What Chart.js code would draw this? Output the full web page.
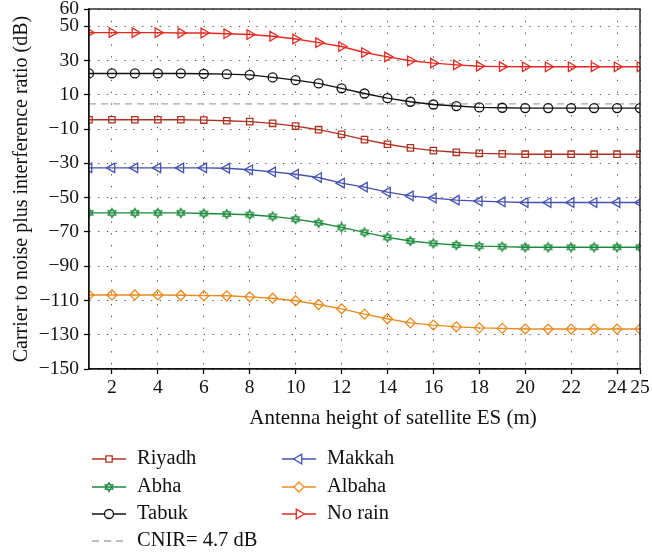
<!DOCTYPE html>
<html>

<head>
    <title>CNIR vs antenna height</title>
    <script src="https://cdn.jsdelivr.net/npm/chart.js"></script>
    <style>
        body { margin: 0; background: #fff; }
    </style>
</head>

<body>
    <canvas id="myChart" width="652" height="554"></canvas>

    <script>
        // antenna height (m)
        const heights = [1, 2, 3, 4, 5, 6, 7, 8, 9, 10, 11, 12, 13, 14, 15, 16, 17, 18, 19, 20, 21, 22, 23, 24, 25];

        const riyadh = [-4.6, -4.6, -4.6, -4.6, -4.6, -4.8, -5.2, -5.7, -6.7, -8.3, -10.4, -13.1, -16.2, -18.9, -21.0, -22.6, -23.6, -24.2, -24.5, -24.7, -24.7, -24.7, -24.7, -24.7, -24.7];
        const abha = [-58.9, -58.9, -58.9, -58.9, -58.9, -59.3, -59.6, -60.0, -61.0, -62.6, -64.7, -67.4, -70.3, -73.2, -75.3, -76.7, -77.7, -78.3, -78.6, -79.0, -79.0, -79.0, -79.0, -79.0, -79.0];
        const tabuk = [22.4, 22.4, 22.4, 22.4, 22.4, 22.2, 22.0, 21.6, 20.1, 18.5, 16.6, 13.7, 10.7, 8.0, 5.9, 4.3, 3.4, 2.6, 2.4, 2.2, 2.2, 2.2, 2.2, 2.2, 2.2];
        const makkah = [-32.7, -32.7, -32.7, -32.7, -32.7, -32.7, -32.9, -33.8, -35.0, -36.4, -38.3, -41.6, -43.9, -46.8, -49.0, -50.3, -51.5, -52.1, -52.5, -52.9, -52.9, -52.9, -52.9, -52.9, -52.9];
        const albaha = [-106.8, -106.8, -106.8, -106.8, -107.0, -107.2, -107.3, -107.9, -108.7, -110.2, -112.4, -114.9, -118.0, -120.7, -123.1, -124.4, -125.4, -126.0, -126.3, -126.7, -126.7, -126.7, -126.7, -126.7, -126.7];
        const noRain = [46.2, 46.2, 46.2, 46.2, 46.0, 46.0, 45.6, 45.1, 44.1, 42.5, 40.4, 38.1, 34.6, 32.1, 29.8, 28.4, 27.4, 26.6, 26.4, 26.3, 26.3, 26.3, 26.3, 26.3, 26.3];
        const cnir = 4.7;

        const xTicks = [2, 4, 6, 8, 10, 12, 14, 16, 18, 20, 22, 24, 25];
        const yTicks = [60, 50, 30, 10, -10, -30, -50, -70, -90, -110, -130, -150];

        const xTitle = 'Antenna height of satellite ES (m)';
        const yTitle = 'Carrier to noise plus interference ratio (dB)';

        const FONT = '"Liberation Serif", "DejaVu Serif", serif';

        // six-point star marker for Abha
        function hexagram(color) {
            const c = document.createElement('canvas');
            c.width = 12; c.height = 12;
            const g = c.getContext('2d');
            g.strokeStyle = color;
            g.lineWidth = 1.1;
            [0, Math.PI].forEach(off => {
                g.beginPath();
                for (let i = 0; i < 3; i++) {
                    const a = off - Math.PI / 2 + i * 2 * Math.PI / 3;
                    const px = 6 + 4.6 * Math.cos(a), py = 6 + 4.6 * Math.sin(a);
                    if (i === 0) g.moveTo(px, py); else g.lineTo(px, py);
                }
                g.closePath();
                g.stroke();
            });
            return c;
        }

        const pts = arr => arr.map((v, i) => ({ x: heights[i], y: v }));

        const series = [
            { label: 'Riyadh', data: riyadh, color: '#ad3320', style: 'rect', radius: 4.5, rot: 0 },
            { label: 'Abha', data: abha, color: '#1b8a3b', style: hexagram('#1b8a3b'), radius: 5, rot: 0 },
            { label: 'Tabuk', data: tabuk, color: '#111111', style: 'circle', radius: 4.5, rot: 0 },
            { label: 'Makkah', data: makkah, color: '#4452b3', style: 'triangle', radius: 5.5, rot: -90 },
            { label: 'Albaha', data: albaha, color: '#ec8a1e', style: 'rectRot', radius: 5, rot: 0 },
            { label: 'No rain', data: noRain, color: '#e62a1f', style: 'triangle', radius: 5.5, rot: 90 }
        ];

        const datasets = series.map(s => ({
            label: s.label,
            data: pts(s.data),
            borderColor: s.color,
            backgroundColor: 'transparent',
            borderWidth: 1.4,
            pointStyle: s.style,
            pointRadius: s.radius,
            pointRotation: s.rot,
            pointBorderWidth: 1.3,
            pointBackgroundColor: 'transparent',
            tension: 0
        }));
        datasets.push({
            label: 'CNIR= 4.7 dB',
            data: [{ x: heights[0], y: cnir }, { x: heights[heights.length - 1], y: cnir }],
            borderColor: '#a8a8a8',
            borderWidth: 1.3,
            borderDash: [7, 5],
            pointRadius: 0
        });

        const legendCols = [
            [0, 1, 2, 6],
            [3, 4, 5]
        ];

        const framePlugin = {
            id: 'frame',
            afterDraw(chart) {
                const { ctx, chartArea: a } = chart;
                ctx.save();
                ctx.strokeStyle = '#111';
                ctx.lineWidth = 1.3;
                ctx.strokeRect(a.left, a.top, a.right - a.left, a.bottom - a.top);

                // x title sits a bit right of the plot centre in the original
                ctx.fillStyle = '#111';
                ctx.font = '21px ' + FONT;
                ctx.textAlign = 'center';
                ctx.textBaseline = 'middle';
                ctx.fillText(xTitle, 393, 418);

                // legend, two columns below the axis title
                const colX = [92, 282];
                const rowY = [459, 487, 514, 541];
                ctx.font = '20.5px ' + FONT;
                ctx.textAlign = 'left';
                legendCols.forEach((col, ci) => {
                    col.forEach((di, ri) => {
                        const ds = chart.data.datasets[di];
                        const x0 = colX[ci], y = rowY[ri];
                        ctx.save();
                        ctx.strokeStyle = ds.borderColor;
                        ctx.lineWidth = ds.borderWidth;
                        ctx.setLineDash(ds.borderDash || []);
                        ctx.beginPath();
                        ctx.moveTo(x0, y);
                        ctx.lineTo(x0 + 34, y);
                        ctx.stroke();
                        ctx.restore();
                        if (ds.pointRadius > 0 && Chart.helpers && Chart.helpers.drawPoint) {
                            ctx.save();
                            ctx.strokeStyle = ds.borderColor;
                            ctx.fillStyle = '#fff';
                            ctx.lineWidth = ds.pointBorderWidth;
                            Chart.helpers.drawPoint(ctx, {
                                pointStyle: ds.pointStyle,
                                rotation: ds.pointRotation,
                                radius: ds.pointRadius,
                                borderWidth: ds.pointBorderWidth
                            }, x0 + 17, y);
                            ctx.restore();
                        }
                        ctx.fillStyle = '#111';
                        ctx.fillText(ds.label, x0 + 45, y);
                    });
                });
                ctx.restore();
            }
        };

        const chartOptions = {
            responsive: false,
            animation: false,
            layout: { padding: { top: 9, right: 12, left: 0, bottom: 123 } },
            plugins: {
                legend: { display: false },
                tooltip: { enabled: false }
            },
            scales: {
                x: {
                    type: 'linear',
                    min: 1,
                    max: 25,
                    afterBuildTicks: scale => { scale.ticks = xTicks.map(v => ({ value: v })); },
                    afterFit: scale => { scale.height = 62; },
                    grid: {
                        color: 'rgba(0,0,0,0.7)',
                        lineWidth: 1,
                        drawTicks: true,
                        tickLength: 5,
                        tickColor: '#111',
                        tickWidth: 1.3
                    },
                    border: { display: true, color: '#111', width: 1.3, dash: [1.3, 10.5] },
                    ticks: {
                        color: '#111',
                        font: { family: FONT, size: 19.5 },
                        padding: 2,
                        maxRotation: 0,
                        autoSkip: false
                    },
                    title: { display: false }
                },
                y: {
                    type: 'linear',
                    min: -150,
                    max: 60,
                    afterBuildTicks: scale => { scale.ticks = yTicks.map(v => ({ value: v })); },
                    afterFit: scale => { scale.width = 89; scale.paddingTop = 0; scale.paddingBottom = 0; },
                    grid: {
                        color: 'rgba(0,0,0,0.7)',
                        lineWidth: 1,
                        drawTicks: true,
                        tickLength: 5,
                        tickColor: '#111',
                        tickWidth: 1.3
                    },
                    border: { display: true, color: '#111', width: 1.3, dash: [1.3, 7.5] },
                    ticks: {
                        color: '#111',
                        font: { family: FONT, size: 19.5 },
                        padding: 5,
                        autoSkip: false,
                        callback: v => String(v).replace('-', '\u2212')
                    },
                    title: {
                        display: true,
                        text: yTitle,
                        color: '#111',
                        font: { family: FONT, size: 20 },
                        padding: { top: 10, bottom: 0 }
                    }
                }
            }
        };

        const chart = new Chart('myChart', {
            type: 'line',
            data: { datasets },
            options: chartOptions,
            plugins: [framePlugin]
        });
    </script>
</body>

</html>
